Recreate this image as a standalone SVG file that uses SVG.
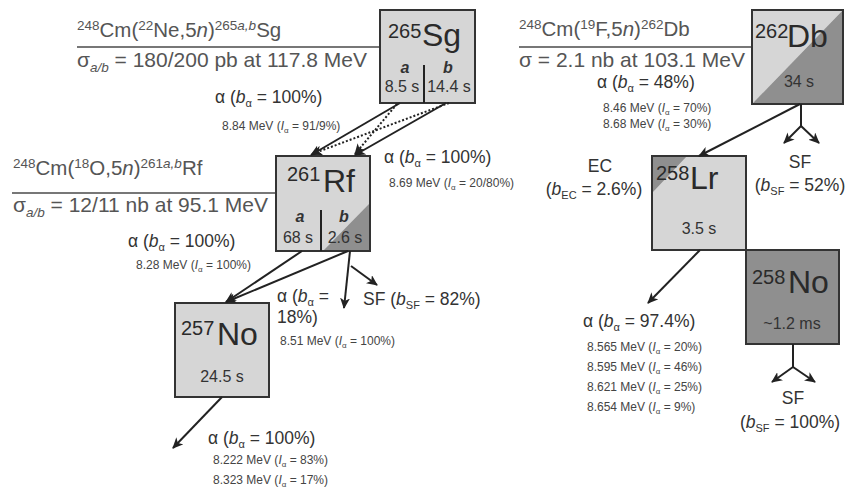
<svg xmlns="http://www.w3.org/2000/svg" width="845" height="490" viewBox="0 0 845 490">
<defs>
<marker id="ah" markerUnits="userSpaceOnUse" markerWidth="12" markerHeight="10" refX="10" refY="5" orient="auto">
<path d="M0,0 L11,5 L0,10 L3,5 z" fill="#222"/>
</marker>
<marker id="gh" markerUnits="userSpaceOnUse" markerWidth="10" markerHeight="10" refX="9" refY="5" orient="auto">
<path d="M1,1 L9,5 L1,9" fill="none" stroke="#666" stroke-width="1.5"/>
</marker>
<style>
text{font-family:"Liberation Sans",Arial,sans-serif;fill:#333}
.box{stroke:#333;stroke-width:2}
.light{fill:#d6d6d6}
.dark{fill:#8f8f8f}
.nof{fill:none}
.sym{font-size:32px;fill:#2a2a2a}
.mass{font-size:20px;fill:#2a2a2a}
.hl{font-size:16px;fill:#333}
.lab{font-size:17.5px}
.sm{font-size:12px;fill:#444}
.rx{font-size:20.5px;fill:#555}
.sg{font-size:21px;fill:#555}
.conn{stroke:#222;stroke-width:2;fill:none;marker-end:url(#ah)}
.dot{stroke-dasharray:2 2;stroke-width:2}
.seg{stroke:#222;stroke-width:2;fill:none}
.rxl{stroke:#777;stroke-width:2;fill:none}
.rxa{stroke:#777;stroke-width:1.5;fill:none;marker-end:url(#gh)}
.it{font-style:italic}
.mid{text-anchor:middle}
</style>
</defs>

<g id="reactions">
<text class="rx" x="77" y="37"><tspan font-size="13.5" dy="-7">248</tspan><tspan dy="7">Cm(</tspan><tspan font-size="13.5" dy="-7">22</tspan><tspan dy="7">Ne,5</tspan><tspan class="it">n</tspan>)<tspan font-size="13.5" dy="-7">265<tspan class="it">a,b</tspan></tspan><tspan dy="7">Sg</tspan></text>
<text class="sg" x="77" y="67">σ<tspan class="it" font-size="13.5" dy="5">a/b</tspan><tspan dy="-5"> = 180/200 pb at 117.8 MeV</tspan></text>
<path class="rxl" d="M77,47 H420 L436,62"/>
<path class="rxa" d="M385,47 L400,61"/>

<text class="rx" x="13" y="175"><tspan font-size="13.5" dy="-7">248</tspan><tspan dy="7">Cm(</tspan><tspan font-size="13.5" dy="-7">18</tspan><tspan dy="7">O,5</tspan><tspan class="it">n</tspan>)<tspan font-size="13.5" dy="-7">261<tspan class="it">a,b</tspan></tspan><tspan dy="7">Rf</tspan></text>
<text class="sg" x="13" y="212">σ<tspan class="it" font-size="13.5" dy="5">a/b</tspan><tspan dy="-5"> = 12/11 nb at 95.1 MeV</tspan></text>
<path class="rxl" d="M12,193 H317 L334,207"/>
<path class="rxa" d="M285,193 L299,207"/>

<text class="rx" x="519" y="36"><tspan font-size="13.5" dy="-7">248</tspan><tspan dy="7">Cm(</tspan><tspan font-size="13.5" dy="-7">19</tspan><tspan dy="7">F,5</tspan><tspan class="it">n</tspan>)<tspan font-size="13.5" dy="-7">262</tspan><tspan dy="7">Db</tspan></text>
<text class="sg" x="519" y="67">σ = 2.1 nb at 103.1 MeV</text>
<path class="rxl" d="M519,47 H762"/>
<path class="rxa" d="M762,47 L774,60"/>
</g>

<g id="Sg265">
<rect class="box light" x="380" y="10" width="95" height="93"/>
<line class="seg" x1="424" y1="65" x2="424" y2="103"/>
<text class="mass" x="388" y="38">265</text>
<text class="sym" x="422" y="46">Sg</text>
<text class="hl mid it" x="405" y="73" font-weight="bold">a</text>
<text class="hl mid it" x="448" y="73" font-weight="bold">b</text>
<text class="hl mid" x="402" y="92">8.5 s</text>
<text class="hl mid" x="449" y="92">14.4 s</text>
</g>

<g id="Rf261">
<rect class="box light" x="276" y="156" width="94" height="95"/>
<path class="dark" d="M370,203 L370,251 L323,251 z"/>
<rect class="box nof" x="276" y="156" width="94" height="95"/>
<line class="seg" x1="321" y1="210" x2="321" y2="251"/>
<text class="mass" x="287" y="181">261</text>
<text class="sym" x="323" y="192">Rf</text>
<text class="hl mid it" x="300" y="222" font-weight="bold">a</text>
<text class="hl mid it" x="344" y="222" font-weight="bold">b</text>
<text class="hl mid" x="298" y="243">68 s</text>
<text class="hl mid" x="345" y="243">2.6 s</text>
</g>

<g id="No257">
<rect class="box light" x="175" y="303" width="94" height="94"/>
<text class="mass" x="181" y="335">257</text>
<text class="sym" x="217" y="345">No</text>
<text class="hl mid" x="222" y="382" font-size="18">24.5 s</text>
</g>

<g id="Db262">
<path fill="#d6d6d6" d="M752,10 H843 L752,104 z"/>
<path class="dark" d="M843,10 V104 H752 z"/>
<rect class="box nof" x="752" y="10" width="91" height="94"/>
<text class="mass" x="755" y="38" font-size="18">262</text>
<text class="sym" x="787" y="47" font-size="33">Db</text>
<text class="hl mid" x="799" y="87" font-size="18">34 s</text>
</g>

<g id="Lr258">
<rect class="box light" x="652" y="156" width="94" height="94"/>
<path class="dark" d="M652,156 H687 L652,193 z"/>
<rect class="box nof" x="652" y="156" width="94" height="94"/>
<text class="mass" x="656" y="180">258</text>
<text class="sym" x="690" y="189">Lr</text>
<text class="hl mid" x="699" y="234" font-size="18">3.5 s</text>
</g>

<g id="No258">
<rect class="box dark" x="746" y="250" width="93" height="94"/>
<text class="mass" x="752" y="284">258</text>
<text class="sym" x="788" y="293">No</text>
<text class="hl mid" x="792" y="329" font-size="18">~1.2 ms</text>
</g>

<g id="connectors">
<line class="conn" x1="400" y1="103" x2="311" y2="155"/>
<line class="conn" x1="446" y1="103" x2="355" y2="155"/>
<line class="conn dot" x1="397" y1="104" x2="355" y2="154"/>
<line class="conn dot" x1="449" y1="103" x2="312" y2="154"/>
<line class="conn" x1="302" y1="251" x2="226" y2="302"/>
<line class="conn" x1="348" y1="251" x2="226" y2="302"/>
<line class="conn" x1="350" y1="251" x2="344" y2="308"/>
<line class="conn" x1="351" y1="266" x2="377" y2="285"/>
<line class="conn" x1="222" y1="397" x2="173" y2="448"/>
<line class="conn" x1="800" y1="104" x2="699" y2="156"/>
<path class="seg" d="M801,104 V126"/>
<line class="conn" x1="801" y1="126" x2="784" y2="143"/>
<line class="conn" x1="801" y1="126" x2="819" y2="143"/>
<line class="conn" x1="700" y1="250" x2="648" y2="303"/>
<path class="seg" d="M793,344 V367"/>
<line class="conn" x1="793" y1="367" x2="772" y2="382"/>
<line class="conn" x1="793" y1="367" x2="815" y2="382"/>
</g>

<g id="labels">
<text class="lab" x="215" y="103">α (<tspan class="it">b</tspan><tspan font-size="11" dy="4">α</tspan><tspan dy="-4"> = 100%)</tspan></text>
<text class="sm" x="222" y="130">8.84 MeV (<tspan class="it">I</tspan><tspan font-size="8" dy="3">α</tspan><tspan dy="-3"> = 91/9%)</tspan></text>

<text class="lab" x="384" y="163">α (<tspan class="it">b</tspan><tspan font-size="11" dy="4">α</tspan><tspan dy="-4"> = 100%)</tspan></text>
<text class="sm" x="389" y="187">8.69 MeV (<tspan class="it">I</tspan><tspan font-size="8" dy="3">α</tspan><tspan dy="-3"> = 20/80%)</tspan></text>

<text class="lab" x="128" y="247">α (<tspan class="it">b</tspan><tspan font-size="11" dy="4">α</tspan><tspan dy="-4"> = 100%)</tspan></text>
<text class="sm" x="136" y="269">8.28 MeV (<tspan class="it">I</tspan><tspan font-size="8" dy="3">α</tspan><tspan dy="-3"> = 100%)</tspan></text>

<text class="lab" x="277" y="302">α (<tspan class="it">b</tspan><tspan font-size="11" dy="4">α</tspan><tspan dy="-4"> =</tspan></text>
<text class="lab" x="277" y="323">18%)</text>
<text class="sm" x="280" y="345">8.51 MeV (<tspan class="it">I</tspan><tspan font-size="8" dy="3">α</tspan><tspan dy="-3"> = 100%)</tspan></text>
<text class="lab" x="363" y="305">SF (<tspan class="it">b</tspan><tspan font-size="11" dy="4">SF</tspan><tspan dy="-4"> = 82%)</tspan></text>

<text class="lab" x="208" y="444">α (<tspan class="it">b</tspan><tspan font-size="11" dy="4">α</tspan><tspan dy="-4"> = 100%)</tspan></text>
<text class="sm" x="213" y="464">8.222 MeV (<tspan class="it">I</tspan><tspan font-size="8" dy="3">α</tspan><tspan dy="-3"> = 83%)</tspan></text>
<text class="sm" x="213" y="484">8.323 MeV (<tspan class="it">I</tspan><tspan font-size="8" dy="3">α</tspan><tspan dy="-3"> = 17%)</tspan></text>

<text class="lab" x="597" y="88">α (<tspan class="it">b</tspan><tspan font-size="11" dy="4">α</tspan><tspan dy="-4"> = 48%)</tspan></text>
<text class="sm" x="603" y="112">8.46 MeV (<tspan class="it">I</tspan><tspan font-size="8" dy="3">α</tspan><tspan dy="-3"> = 70%)</tspan></text>
<text class="sm" x="603" y="128">8.68 MeV (<tspan class="it">I</tspan><tspan font-size="8" dy="3">α</tspan><tspan dy="-3"> = 30%)</tspan></text>

<text class="lab mid" x="800" y="168">SF</text>
<text class="lab mid" x="800" y="191">(<tspan class="it">b</tspan><tspan font-size="11" dy="4">SF</tspan><tspan dy="-4"> = 52%)</tspan></text>

<text class="lab mid" x="600" y="172">EC</text>
<text class="lab mid" x="594" y="195">(<tspan class="it">b</tspan><tspan font-size="11" dy="4">EC</tspan><tspan dy="-4"> = 2.6%)</tspan></text>

<text class="lab" x="583" y="327">α (<tspan class="it">b</tspan><tspan font-size="11" dy="4">α</tspan><tspan dy="-4"> = 97.4%)</tspan></text>
<text class="sm" x="587" y="351">8.565 MeV (<tspan class="it">I</tspan><tspan font-size="8" dy="3">α</tspan><tspan dy="-3"> = 20%)</tspan></text>
<text class="sm" x="587" y="371">8.595 MeV (<tspan class="it">I</tspan><tspan font-size="8" dy="3">α</tspan><tspan dy="-3"> = 46%)</tspan></text>
<text class="sm" x="587" y="391">8.621 MeV (<tspan class="it">I</tspan><tspan font-size="8" dy="3">α</tspan><tspan dy="-3"> = 25%)</tspan></text>
<text class="sm" x="587" y="411">8.654 MeV (<tspan class="it">I</tspan><tspan font-size="8" dy="3">α</tspan><tspan dy="-3"> = 9%)</tspan></text>

<text class="lab mid" x="793" y="404">SF</text>
<text class="lab mid" x="790" y="428">(<tspan class="it">b</tspan><tspan font-size="11" dy="4">SF</tspan><tspan dy="-4"> = 100%)</tspan></text>
</g>
</svg>
